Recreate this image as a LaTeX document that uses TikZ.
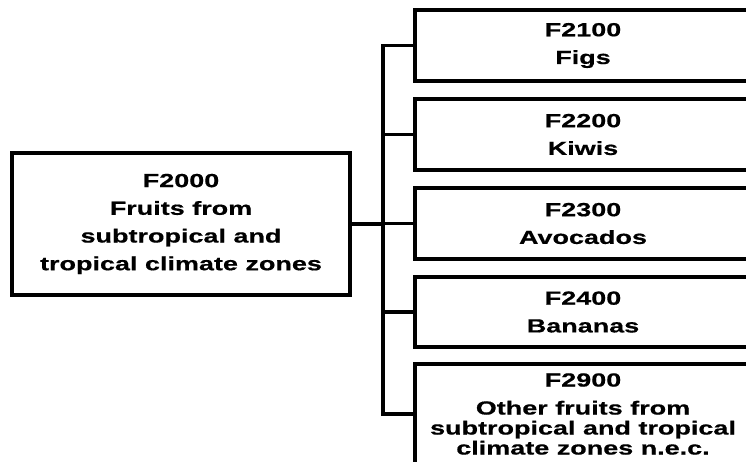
\documentclass[tikz,border=0pt]{standalone}
\usepackage{fontspec}
\setmainfont[FakeStretch=1.42,BoldFeatures={FakeBold=0.6}]{Liberation Sans}
\begin{document}
\begin{tikzpicture}[x=1pt,y=-1pt,
  box/.style={draw, line width=3.2pt, inner sep=0pt, align=center,
    font=\bfseries\fontsize{19}{27.7}\selectfont},
  link/.style={line width=3.2pt}]
\useasboundingbox (0,0) rectangle (746,461);
\node[box, minimum width=338pt, minimum height=142pt] (root) at (181,224)
  {F2000\\Fruits from\\subtropical and\\tropical climate zones};
\node[box, minimum width=336pt, minimum height=71pt] (b1) at (583,45.5) {F2100\\Figs};
\node[box, minimum width=336pt, minimum height=71pt] (b2) at (583,134.5) {F2200\\Kiwis};
\node[box, minimum width=336pt, minimum height=71pt] (b3) at (583,223.5) {F2300\\Avocados};
\node[box, minimum width=336pt, minimum height=70pt] (b4) at (583,312) {F2400\\Bananas};
\node[box, minimum width=336pt, minimum height=100pt,
  font=\bfseries\fontsize{19}{20}\selectfont] (b5) at (583,414)
  {F2900\\[8pt]Other fruits from\\subtropical and tropical\\climate zones n.e.c.};
\coordinate (t1) at (383,45.5);
\coordinate (t2) at (383,134.5);
\coordinate (t3) at (383,223.5);
\coordinate (t4) at (383,312);
\coordinate (t5) at (383,414);
\draw[link] (b1.west) -- (t1) -- (t5) -- (b5.west);
\draw[link] (t2) -- (b2.west);
\draw[link] (t3) -- (b3.west);
\draw[link] (t4) -- (b4.west);
\draw[link] (root.east) -- (root.east -| t3);
\end{tikzpicture}
\end{document}
